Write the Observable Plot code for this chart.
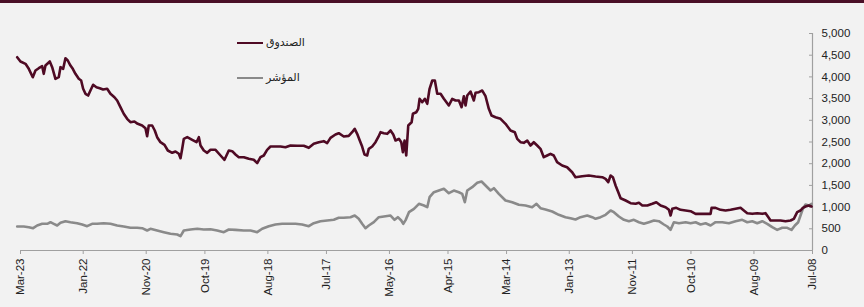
<!DOCTYPE html>
<html>
<head>
<meta charset="utf-8">
<script src="https://cdn.jsdelivr.net/npm/d3@7"></script>
<script src="https://cdn.jsdelivr.net/npm/@observablehq/plot@0.6"></script>
<style>
  html, body { margin: 0; padding: 0; background: #f2f2f2; }
  #wrap { position: relative; width: 864px; height: 307px; overflow: hidden; background: #f2f2f2; font-family: "Liberation Sans", Arial, sans-serif; }
  #topbar { position: absolute; left: 0; top: 0; width: 864px; height: 3px; background: #4a0f27; }
  #chart { position: absolute; left: 0; top: 0; }
  .leg { position: absolute; display: flex; align-items: center; font-size: 11px; color: #222; font-family: "DejaVu Sans", "Liberation Sans", sans-serif; }
  .leg .sw { width: 26px; height: 0; border-top: 2.5px solid; margin-right: 3px; }
</style>
</head>
<body>
<div id="wrap">
  <div id="chart"></div>
  <div id="topbar"></div>
  <div class="leg" style="left:237px; top:36px;"><span class="sw" style="border-color:#4f0a24"></span><span>الصندوق</span></div>
  <div class="leg" style="left:237px; top:71px;"><span class="sw" style="border-color:#8a8a8a"></span><span>المؤشر</span></div>
</div>
<script>
// Series names
const seriesNames = ["الصندوق", "المؤشر"];

// Fund (الصندوق): decimal-year positions and values
const fundYear = [2023.223,2023.162,2023.069,2023.008,2022.934,2022.884,2022.823,2022.760,2022.731,2022.699,2022.619,2022.575,2022.514,2022.453,2022.421,2022.371,2022.329,2022.286,2022.236,2022.193,2022.144,2022.082,2022.038,2022.001,2021.958,2021.908,2021.866,2021.816,2021.755,2021.694,2021.631,2021.556,2021.495,2021.421,2021.371,2021.310,2021.249,2021.186,2021.125,2021.051,2020.990,2020.908,2020.847,2020.816,2020.786,2020.723,2020.675,2020.631,2020.570,2020.495,2020.434,2020.353,2020.292,2020.231,2020.199,2020.168,2020.138,2020.075,2019.983,2019.903,2019.860,2019.829,2019.768,2019.705,2019.644,2019.551,2019.458,2019.385,2019.305,2019.242,2019.181,2019.120,2019.027,2018.935,2018.842,2018.779,2018.718,2018.657,2018.595,2018.533,2018.441,2018.348,2018.255,2018.162,2018.038,2017.916,2017.823,2017.731,2017.638,2017.546,2017.483,2017.421,2017.329,2017.268,2017.175,2017.083,2017.020,2016.972,2016.927,2016.879,2016.835,2016.792,2016.742,2016.712,2016.649,2016.588,2016.538,2016.495,2016.434,2016.372,2016.310,2016.260,2016.218,2016.156,2016.112,2016.082,2016.051,2016.020,2015.983,2015.921,2015.897,2015.835,2015.798,2015.773,2015.724,2015.675,2015.631,2015.588,2015.538,2015.490,2015.446,2015.384,2015.323,2015.231,2015.168,2015.107,2015.045,2014.995,2014.953,2014.921,2014.890,2014.829,2014.768,2014.736,2014.675,2014.612,2014.551,2014.490,2014.440,2014.366,2014.273,2014.181,2014.088,2014.009,2013.964,2013.903,2013.842,2013.779,2013.718,2013.657,2013.594,2013.533,2013.472,2013.409,2013.348,2013.287,2013.225,2013.132,2013.040,2012.946,2012.885,2012.761,2012.639,2012.514,2012.390,2012.329,2012.279,2012.236,2012.194,2012.144,2012.094,2012.051,2011.958,2011.866,2011.773,2011.712,2011.649,2011.556,2011.464,2011.390,2011.310,2011.218,2011.156,2011.125,2011.094,2011.020,2010.940,2010.847,2010.755,2010.662,2010.570,2010.477,2010.384,2010.366,2010.292,2010.199,2010.107,2010.014,2009.921,2009.829,2009.768,2009.705,2009.612,2009.520,2009.427,2009.366,2009.323,2009.273,2009.181,2009.088,2008.996,2008.903,2008.842,2008.780,2008.719,2008.676,2008.626,2008.565,2008.515];
const fundValue = [4454,4355,4301,4186,3993,4147,4200,4247,4071,4262,4355,4224,3956,3993,4224,4186,4431,4378,4262,4186,4071,3956,3917,3726,3611,3571,3686,3818,3763,3740,3709,3726,3611,3532,3456,3302,3150,3034,2956,2972,2919,2880,2818,2634,2880,2880,2765,2611,2495,2435,2304,2251,2281,2228,2127,2343,2573,2611,2550,2495,2611,2419,2304,2251,2320,2320,2189,2090,2304,2288,2212,2150,2150,2113,2090,2012,2150,2189,2320,2396,2396,2396,2380,2419,2412,2412,2366,2458,2495,2519,2473,2596,2673,2703,2627,2642,2726,2803,2688,2534,2396,2212,2189,2343,2396,2495,2611,2726,2703,2688,2765,2673,2534,2573,2495,2265,2534,2189,2880,2956,3150,3186,3264,3495,3417,3495,3380,3726,3917,3917,3611,3611,3495,3341,3495,3456,3456,3302,3555,3341,3571,3663,3456,3633,3648,3686,3555,3264,3110,3072,3034,2919,2765,2726,2573,2495,2481,2534,2419,2495,2419,2343,2150,2189,2228,2189,2035,1958,1919,1804,1689,1712,1728,1705,1689,1651,1574,1728,1689,1498,1343,1205,1152,1090,1076,1099,1037,1037,1076,1113,1037,998,937,806,960,983,937,922,906,845,845,845,845,983,983,937,922,937,960,983,922,860,845,860,845,860,783,691,691,691,675,691,730,883,922,983,1014,1037,1014];

// Index (المؤشر): decimal-year positions and values
const indexYear = [2023.223,2023.101,2023.008,2022.927,2022.853,2022.760,2022.668,2022.606,2022.545,2022.482,2022.421,2022.329,2022.236,2022.112,2022.019,2021.927,2021.835,2021.742,2021.620,2021.495,2021.371,2021.249,2021.125,2021.001,2020.908,2020.816,2020.755,2020.631,2020.508,2020.384,2020.260,2020.199,2020.138,2020.014,2019.890,2019.768,2019.644,2019.520,2019.397,2019.305,2019.181,2019.027,2018.903,2018.779,2018.687,2018.564,2018.441,2018.316,2018.194,2018.070,2017.947,2017.823,2017.731,2017.607,2017.483,2017.360,2017.268,2017.175,2017.051,2016.972,2016.898,2016.835,2016.773,2016.712,2016.619,2016.527,2016.434,2016.310,2016.236,2016.175,2016.112,2016.075,2016.032,2015.970,2015.877,2015.785,2015.692,2015.631,2015.588,2015.508,2015.416,2015.323,2015.231,2015.138,2015.045,2014.983,2014.935,2014.890,2014.798,2014.705,2014.625,2014.551,2014.458,2014.397,2014.305,2014.181,2014.057,2013.934,2013.811,2013.687,2013.607,2013.533,2013.440,2013.316,2013.194,2013.070,2012.977,2012.885,2012.792,2012.668,2012.575,2012.514,2012.421,2012.329,2012.236,2012.175,2012.083,2011.990,2011.897,2011.805,2011.712,2011.620,2011.527,2011.434,2011.342,2011.249,2011.186,2011.125,2011.064,2010.971,2010.847,2010.755,2010.662,2010.570,2010.477,2010.384,2010.292,2010.168,2010.045,2009.921,2009.798,2009.705,2009.612,2009.520,2009.427,2009.335,2009.242,2009.150,2009.057,2008.964,2008.885,2008.823,2008.761,2008.719,2008.676,2008.626,2008.565,2008.515];
const indexValue = [553,553,537,514,576,615,615,652,615,576,638,675,652,629,599,560,615,615,629,615,576,553,523,523,514,461,500,461,422,385,369,330,461,484,500,484,490,461,422,484,476,461,461,422,500,560,599,615,615,615,599,560,629,675,691,707,753,753,768,806,730,615,514,576,652,768,783,806,707,768,691,615,700,883,960,1076,1037,998,1228,1343,1382,1422,1320,1382,1343,1306,1113,1382,1459,1560,1590,1498,1382,1435,1306,1152,1113,1053,1037,998,1076,975,945,899,822,768,745,714,768,806,768,730,768,822,922,883,783,707,675,707,652,615,652,691,675,599,553,476,652,629,652,629,652,599,629,576,652,652,629,675,707,652,675,629,675,615,537,476,523,523,476,576,652,806,960,1060,1037,1076];

// Axis ticks
const xTickLabels = ["Mar-23","Jan-22","Nov-20","Oct-19","Aug-18","Jul-17","May-16","Apr-15","Mar-14","Jan-13","Nov-11","Oct-10","Aug-09","Jul-08"];
const yTicks = [0,500,1000,1500,2000,2500,3000,3500,4000,4500,5000];

const monthIdx = {Jan:0,Feb:1,Mar:2,Apr:3,May:4,Jun:5,Jul:6,Aug:7,Sep:8,Oct:9,Nov:10,Dec:11};
const labelToDate = s => { const [m, y] = s.split("-"); return new Date(Date.UTC(2000 + +y, monthIdx[m], 1)); };
const yearToDate = y => { const Y = Math.floor(y); const a = Date.UTC(Y,0,1), b = Date.UTC(Y+1,0,1); return new Date(a + (y - Y) * (b - a)); };

const xTicks = xTickLabels.map(labelToDate);
const fund = fundYear.map((y, i) => ({date: yearToDate(y), value: fundValue[i], series: seriesNames[0]}));
const index = indexYear.map((y, i) => ({date: yearToDate(y), value: indexValue[i], series: seriesNames[1]}));
const xStart = xTicks[xTicks.length - 1], xEnd = xTicks[0];
const fmt = d3.utcFormat("%b-%y");

const plot = Plot.plot({
  width: 864,
  height: 307,
  marginLeft: 20,
  marginRight: 52,
  marginTop: 33,
  marginBottom: 57,
  style: { background: "transparent", fontFamily: "'Liberation Sans', Arial, sans-serif", fontSize: "11px", color: "#222" },
  x: { type: "utc", domain: [xStart, xEnd], reverse: true },
  y: { domain: [0, 5000] },
  marks: [
    Plot.ruleY([0], { stroke: "#a0a0a0", strokeWidth: 1.2 }),
    Plot.ruleX([xStart], { y1: 0, y2: 5000, stroke: "#a0a0a0", strokeWidth: 1.2 }),
    Plot.axisX({ ticks: xTicks, tickFormat: fmt, tickRotate: -90, tickSize: 4, tickPadding: 4, stroke: "#a0a0a0", fill: "#222", fontSize: 11.5, label: null }),
    Plot.axisY({ anchor: "right", ticks: yTicks, tickSize: 4, dx: -4, tickFormat: () => "", stroke: "#a0a0a0", label: null }),
    Plot.axisY({ anchor: "right", ticks: yTicks, tickSize: 0, tickPadding: 9, textAnchor: "start", tickFormat: d3.format(","), fill: "#222", fontSize: 11.5, label: null }),
    Plot.line(index, { x: "date", y: "value", stroke: "#8a8a8a", strokeWidth: 2.6 }),
    Plot.line(fund, { x: "date", y: "value", stroke: "#4f0a24", strokeWidth: 2.6 })
  ]
});
document.getElementById("chart").appendChild(plot);
</script>
</body>
</html>
